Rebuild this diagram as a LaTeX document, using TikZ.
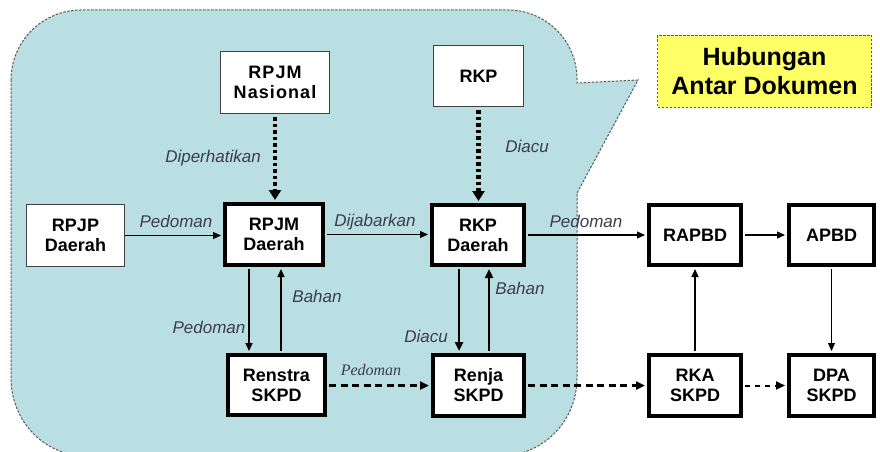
\documentclass[tikz,border=0pt]{standalone}
\usepackage{fontspec}
\setmainfont{Liberation Sans}
\newfontfamily\lblserif{Liberation Serif}
\newfontfamily\spacedsans[LetterSpace=6]{Liberation Sans}
\usetikzlibrary{arrows.meta}
\definecolor{calloutfill}{HTML}{B9DFE2}
\definecolor{calloutline}{HTML}{5A5A5A}
\definecolor{notefill}{HTML}{FFFF66}
\definecolor{lblcol}{HTML}{3C3C4C}
\definecolor{thinline}{HTML}{404040}
\tikzset{
  boxtext/.style={font=\fontsize{18}{20}\selectfont\bfseries, align=center, inner sep=0pt, fill=white},
  thinbox/.style={boxtext, draw=thinline, line width=1.3pt},
  thickbox/.style={boxtext, draw=black, line width=4pt},
  lbl/.style={font=\fontsize{17}{19}\selectfont\itshape, text=lblcol, inner sep=0pt},
  arr/.style={-{Triangle[length=8pt,width=7pt]}, line width=1.2pt, black},
  midarr/.style={-{Triangle[length=9pt,width=8pt]}, line width=2.4pt, black},
  dotarr/.style={-{Triangle[length=10pt,width=12pt]}, line width=4.5pt, dash pattern=on 3.5pt off 3pt, black},
  dasharr/.style={-{Triangle[length=9pt,width=8pt]}, line width=2.6pt, dash pattern=on 7pt off 4.5pt, black},
  shortdash/.style={-{Triangle[length=9pt,width=8pt]}, line width=2pt, dash pattern=on 5pt off 5pt, black}
}
\begin{document}
\begin{tikzpicture}[x=1pt,y=-1pt]
\useasboundingbox (0,0) rectangle (880,452);
% callout region
\draw[fill=calloutfill, draw=calloutline, line width=1pt, dash pattern=on 2.5pt off 1.5pt]
  (11,80) .. controls (11,41.4) and (42.4,10) .. (81,10) -- (508,10)
  .. controls (546,10) and (577,41) .. (577,79) -- (577,83) -- (638,80) -- (577,193)
  -- (577,378) .. controls (577,421) and (543,456) .. (500,456) -- (87,456)
  .. controls (44,456) and (11,421) .. (11,378) -- cycle;
% title note
\node[fill=notefill, draw=calloutline, line width=1pt, dash pattern=on 2.5pt off 1.5pt,
      minimum width=214pt, minimum height=72pt, inner sep=0pt, align=center,
      font=\fontsize{25}{29}\selectfont\bfseries] (title) at (764.5,71.5) {Hubungan\\Antar Dokumen};
% boxes
\node[thinbox, minimum width=109pt, minimum height=62pt, font=\fontsize{18}{20}\selectfont\bfseries\spacedsans] (rpjmn) at (275,82.5) {RPJM\\Nasional};
\node[thinbox, minimum width=90pt, minimum height=61pt] (rkp) at (478.5,76) {RKP};
\node[thinbox, minimum width=98pt, minimum height=62pt] (rpjp) at (75.5,235.5) {RPJP\\Daerah};
\node[thickbox, minimum width=98pt, minimum height=61pt] (rpjmd) at (274,234.5) {RPJM\\Daerah};
\node[thickbox, minimum width=92pt, minimum height=60pt] (rkpd) at (478,235) {RKP\\Daerah};
\node[thickbox, minimum width=92pt, minimum height=60pt] (rapbd) at (695,235) {RAPBD};
\node[thickbox, minimum width=85pt, minimum height=60pt] (apbd) at (831.5,235) {APBD};
\node[thickbox, minimum width=97pt, minimum height=60pt] (renstra) at (276.5,385) {Renstra\\SKPD};
\node[thickbox, minimum width=91pt, minimum height=61pt] (renja) at (478.5,385.5) {Renja\\SKPD};
\node[thickbox, minimum width=92pt, minimum height=61pt] (rka) at (695,385.5) {RKA\\SKPD};
\node[thickbox, minimum width=85pt, minimum height=61pt] (dpa) at (831.5,385.5) {DPA\\SKPD};
% dotted arrows
\draw[dotarr, shorten <=3pt, shorten >=2pt] (rpjmn.south) -- (rpjmn.south |- rpjmd.north);
\draw[dotarr, shorten <=3pt, shorten >=2pt] (rkp.south) -- (rkp.south |- rkpd.north);
% horizontal solid arrows
\draw[arr, shorten >=2pt] (rpjp.east) -- (rpjp.east -| rpjmd.west);
\draw[arr, shorten <=2pt, shorten >=2pt] (rpjmd.east) -- (rpjmd.east -| rkpd.west);
\draw[arr, shorten <=2pt, shorten >=2pt] (rkpd.east) -- (rkpd.east -| rapbd.west);
\draw[arr, shorten <=2pt, shorten >=2pt] (rapbd.east) -- (rapbd.east -| apbd.west);
% vertical arrows between RPJM Daerah and Renstra
\draw[arr, line width=1.6pt, shorten <=2pt, shorten >=2pt] ([xshift=-25pt]rpjmd.south) -- ([xshift=-25pt]rpjmd.south |- renstra.north);
\draw[arr, shorten <=2pt, shorten >=2pt] ([xshift=7pt]rpjmd.south |- renstra.north) -- ([xshift=7pt]rpjmd.south);
% vertical arrows between RKP Daerah and Renja
\draw[midarr, shorten <=2pt, shorten >=2pt] ([xshift=-19pt]rkpd.south) -- ([xshift=-19pt]rkpd.south |- renja.north);
\draw[midarr, shorten <=2pt, shorten >=2pt] ([xshift=11pt]rkpd.south |- renja.north) -- ([xshift=11pt]rkpd.south);
% right column verticals
\draw[arr, shorten <=2pt, shorten >=2pt] (rka.north) -- (rka.north |- rapbd.south);
\draw[arr, shorten <=2pt, shorten >=2pt] (apbd.south) -- (apbd.south |- dpa.north);
% dashed arrows
\draw[dasharr, shorten <=2pt, shorten >=2pt] (renstra.east |- renja.west) -- (renja.west);
\draw[dasharr, shorten <=2pt, shorten >=2pt] (renja.east) -- (renja.east -| rka.west);
\draw[shortdash, shorten <=2pt, shorten >=2pt] (rka.east) -- (rka.east -| dpa.west);
% labels
\node[lbl] (l1) at (213,158) {Diperhatikan};
\node[lbl] (l2) at (527,146) {Diacu};
\node[lbl] (l3) at (176,221) {Pedoman};
\node[lbl] (l4) at (375,222) {Dijabarkan};
\node[lbl] (l5) at (586,221) {Pedoman};
\node[lbl] (l6) at (317,296) {Bahan};
\node[lbl] (l7) at (209,327) {Pedoman};
\node[lbl] (l8) at (426,336) {Diacu};
\node[lbl] (l9) at (520,288) {Bahan};
\node[lbl, font=\fontsize{16}{18}\selectfont\lblserif\itshape] (l10) at (371,370) {Pedoman};
\end{tikzpicture}
\end{document}
